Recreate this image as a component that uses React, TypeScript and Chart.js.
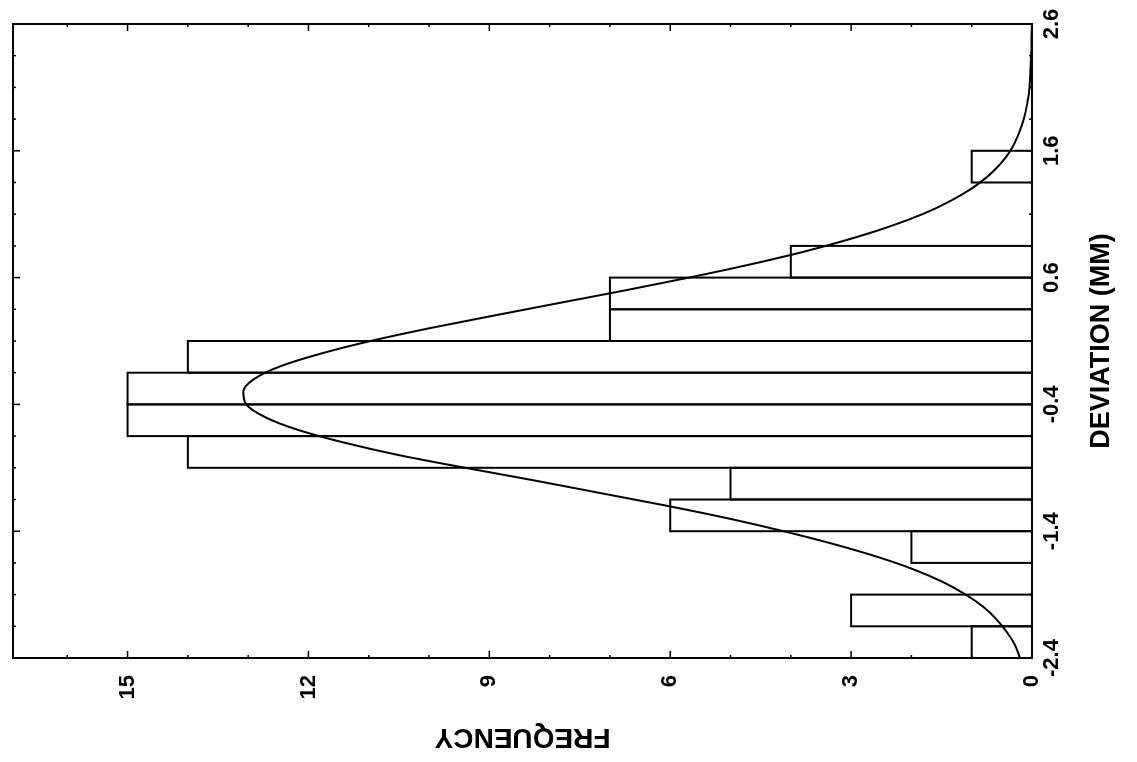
import React, { useEffect, useRef } from "react";
import { Chart, registerables } from "chart.js";

Chart.register(...registerables);

// Histogram bins (deviation, mm) – centres of 0.25 mm wide bins
const binCenters = [
  -2.275, -2.025, -1.775, -1.525, -1.275, -1.025, -0.775, -0.525,
  -0.275, -0.025, 0.225, 0.475, 0.725, 0.975, 1.225, 1.475,
];
const frequencies = [1, 3, 0, 2, 6, 5, 14, 15, 15, 14, 7, 7, 4, 0, 0, 1];

// Fitted normal curve
const curveDeviation = [
  -2.4, -2.3, -2.2, -2.1, -2.0, -1.9, -1.8, -1.7, -1.6, -1.5, -1.4, -1.3,
  -1.2, -1.1, -1.0, -0.9, -0.8, -0.7, -0.6, -0.5, -0.4, -0.3, -0.2, -0.1,
  0.0, 0.1, 0.2, 0.3, 0.4, 0.5, 0.6, 0.7, 0.8, 0.9, 1.0, 1.1, 1.2, 1.3,
  1.4, 1.5, 1.6, 1.7, 1.8, 1.9, 2.0, 2.1, 2.2, 2.3, 2.4, 2.5, 2.6,
];
const curveFrequency = [
  0.2, 0.28, 0.41, 0.58, 0.8, 1.1, 1.48, 1.97, 2.58, 3.3, 4.12, 5.03,
  6.05, 7.15, 8.25, 9.4, 10.5, 11.42, 12.18, 12.72, 13.03, 13.08, 12.9, 12.47,
  11.8, 10.97, 10.0, 8.93, 7.84, 6.74, 5.69, 4.71, 3.82, 3.05, 2.38, 1.82, 1.37, 1.01,
  0.73, 0.52, 0.36, 0.25, 0.17, 0.11, 0.07, 0.04, 0.03, 0.02, 0.01, 0.01, 0.0,
];

const deviationTicks = [-2.4, -1.4, -0.4, 0.6, 1.6, 2.6];
const deviationTickLabels = ["-2.4", "-1.4", "-0.4", "0.6", "1.6", "2.6"];
const deviationMinorTicks = [
  -2.15, -1.9, -1.65, -1.15, -0.9, -0.65, -0.15, 0.1, 0.35, 0.85, 1.1, 1.35,
  1.85, 2.1, 2.35,
];
const frequencyTicks = [0, 3, 6, 9, 12, 15];
const frequencyTickLabels = ["0", "3", "6", "9", "12", "15"];
const frequencyMinorTicks = [1, 2, 4, 5, 7, 8, 10, 11, 13, 14, 16];

const FONT = "'Liberation Sans', Arial, Helvetica, sans-serif";

const framePlugin = {
  id: "frame",
  afterDatasetsDraw(chart: any) {
    const { ctx, chartArea } = chart;
    const { left, right, top, bottom } = chartArea;
    const xs = chart.scales.x;
    const ys = chart.scales.y;
    ctx.save();
    ctx.strokeStyle = "#000";
    // bar outlines
    ctx.lineWidth = 2;
    const meta = chart.getDatasetMeta(1);
    meta.data.forEach((bar: any, i: number) => {
      if (!frequencies[i]) return;
      const p = bar.getProps(["x", "y", "base", "width"], true);
      ctx.strokeRect(p.x - p.width / 2, p.y, p.width, p.base - p.y);
    });
    // frame
    ctx.lineWidth = 2;
    ctx.strokeRect(left, top, right - left, bottom - top);
    // ticks (inward, mirrored)
    ctx.lineWidth = 1.5;
    const line = (x1: number, y1: number, x2: number, y2: number) => {
      ctx.beginPath();
      ctx.moveTo(x1, y1);
      ctx.lineTo(x2, y2);
      ctx.stroke();
    };
    frequencyTicks.forEach((v) => {
      const py = ys.getPixelForValue(v);
      line(left, py, left + 7, py);
      line(right, py, right - 7, py);
    });
    frequencyMinorTicks.forEach((v) => {
      const py = ys.getPixelForValue(v);
      line(left, py, left + 3, py);
      line(right, py, right - 3, py);
    });
    deviationTicks.forEach((v) => {
      const px = xs.getPixelForValue(v);
      line(px, bottom, px, bottom - 7);
      line(px, top, px, top + 7);
    });
    deviationMinorTicks.forEach((v) => {
      const px = xs.getPixelForValue(v);
      line(px, bottom, px, bottom - 3);
      line(px, top, px, top + 3);
    });
    ctx.restore();
  },
};

export default function App() {
  const ref = useRef<HTMLCanvasElement | null>(null);

  useEffect(() => {
    document.body.style.margin = "0";
    const canvas = ref.current;
    if (!canvas) return;
    const chart = new Chart(canvas, {
      type: "bar",
      data: {
        datasets: [
          {
            type: "line",
            data: curveDeviation.map((x, i) => ({ x, y: curveFrequency[i] })),
            borderColor: "#000",
            borderWidth: 2,
            pointRadius: 0,
            cubicInterpolationMode: "monotone",
            fill: false,
          } as any,
          {
            type: "bar",
            data: binCenters.map((x, i) => ({ x, y: frequencies[i] })),
            backgroundColor: "rgba(0,0,0,0)",
            borderWidth: 0,
            barPercentage: 1,
            categoryPercentage: 1,
          } as any,
        ],
      },
      options: {
        responsive: false,
        animation: false,
        layout: { padding: { top: 13, right: 24, left: 0, bottom: 0 } },
        plugins: {
          legend: { display: false },
          tooltip: { enabled: false },
        },
        scales: {
          x: {
            type: "linear",
            position: "bottom",
            min: -2.4,
            max: 2.6,
            offset: false,
            afterBuildTicks: (s: any) => {
              s.ticks = deviationTicks.map((v) => ({ value: v }));
            },
            afterFit: (s: any) => {
              s.height = 105;
              s.paddingLeft = 0;
              s.paddingRight = 0;
            },
            grid: { display: false, drawTicks: false },
            border: { display: false },
            ticks: {
              autoSkip: false,
              maxRotation: 0,
              minRotation: 0,
              padding: 7,
              color: "#000",
              font: { family: FONT, size: 22, weight: "bold" },
              callback: (_v: any, i: number) => deviationTickLabels[i],
            },
            title: {
              display: true,
              text: "DEVIATION (MM)",
              color: "#000",
              font: { family: FONT, size: 27, weight: "bold" },
              padding: { top: 0, bottom: 19 },
            },
          },
          y: {
            type: "linear",
            position: "left",
            min: 0,
            max: 16.9,
            afterBuildTicks: (s: any) => {
              s.ticks = frequencyTicks.map((v) => ({ value: v }));
            },
            afterFit: (s: any) => {
              s.width = 104;
              s.paddingTop = 0;
              s.paddingBottom = 0;
            },
            grid: { display: false, drawTicks: false },
            border: { display: false },
            ticks: {
              autoSkip: false,
              padding: 17,
              color: "#000",
              font: { family: FONT, size: 22, weight: "bold" },
              callback: (_v: any, i: number) => frequencyTickLabels[i],
            },
            title: {
              display: true,
              text: "FREQUENCY",
              color: "#000",
              font: { family: FONT, size: 28, weight: "bold" },
              padding: { top: 8, bottom: 0 },
            },
          },
        },
      } as any,
      plugins: [framePlugin],
    });
    return () => chart.destroy();
  }, []);

  return (
    <div
      style={{
        position: "fixed",
        left: 0,
        top: 0,
        width: 1137,
        height: 762,
        overflow: "hidden",
        background: "#fff",
      }}
    >
      <canvas
        ref={ref}
        width={762}
        height={1137}
        style={{
          position: "absolute",
          left: 0,
          top: 0,
          width: 762,
          height: 1137,
          transformOrigin: "0 0",
          transform: "translateY(762px) rotate(-90deg)",
        }}
      />
    </div>
  );
}
